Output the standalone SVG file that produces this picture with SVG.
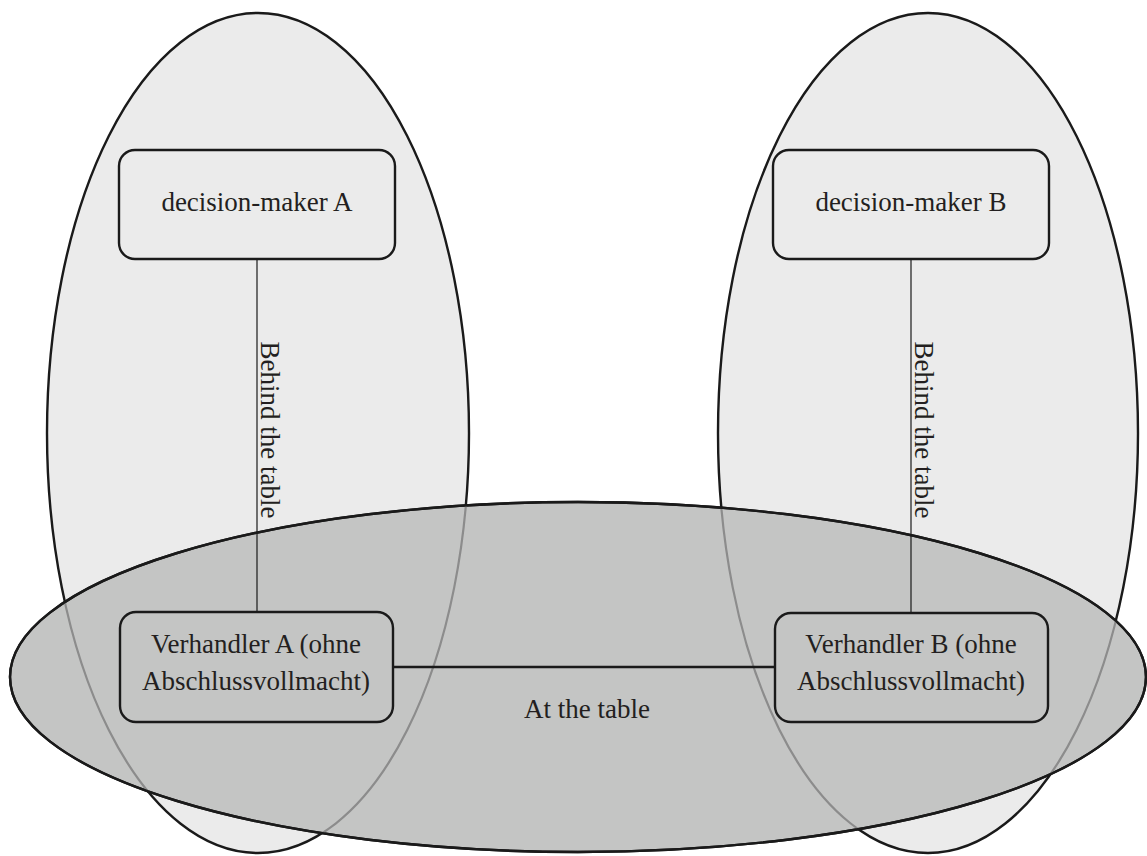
<svg xmlns="http://www.w3.org/2000/svg" width="1147" height="856" viewBox="0 0 1147 856">
<style>
.t{font-family:"Liberation Serif","Times New Roman",serif;font-size:27px;fill:#231f20;text-anchor:middle}
.tall{fill:#ebebeb;stroke:#1a1a1a;stroke-width:2.4}
.box{fill:none;stroke:#1a1a1a;stroke-width:2.4}
.inner{fill:none;stroke:#8c8c8c;stroke-width:2.2}
</style>
<defs>
<clipPath id="wideClip"><ellipse cx="578" cy="677" rx="568" ry="175"/></clipPath>
</defs>
<rect width="1147" height="856" fill="#ffffff"/>
<g id="zone-A"><ellipse class="tall" cx="258" cy="433" rx="211" ry="420"/></g>
<g id="zone-B"><ellipse class="tall" cx="928" cy="433" rx="210" ry="420"/></g>
<g id="zone-table">
<ellipse cx="578" cy="677" rx="568" ry="175" fill="#c4c5c4" stroke="#1a1a1a" stroke-width="2.4"/>
<g clip-path="url(#wideClip)">
<ellipse class="inner" cx="258" cy="433" rx="211" ry="420"/>
<ellipse class="inner" cx="928" cy="433" rx="210" ry="420"/>
</g>
<ellipse cx="578" cy="677" rx="568" ry="175" fill="none" stroke="#1a1a1a" stroke-width="2.4"/>
<text class="t" x="587" y="718">At the table</text>
</g>
<g id="connectors" stroke="#1a1a1a">
<line x1="257" y1="259" x2="257" y2="612" stroke-width="1.2"/>
<line x1="911" y1="259" x2="911" y2="612" stroke-width="1.2"/>
<line x1="393" y1="667" x2="775" y2="667" stroke-width="2.4"/>
<text class="t" stroke="none" transform="translate(261,430) rotate(90)">Behind the table</text>
<text class="t" stroke="none" transform="translate(915,430) rotate(90)">Behind the table</text>
</g>
<g id="dm-A"><rect class="box" x="119" y="150" width="276" height="109" rx="16"/><text class="t" x="257" y="211">decision-maker A</text></g>
<g id="dm-B"><rect class="box" x="773" y="150" width="276" height="109" rx="16"/><text class="t" x="911" y="211">decision-maker B</text></g>
<g id="neg-A"><rect class="box" x="120" y="612" width="273" height="110" rx="16"/><text class="t" x="256" y="653">Verhandler A (ohne</text><text class="t" x="256" y="690">Abschlussvollmacht)</text></g>
<g id="neg-B"><rect class="box" x="775" y="613" width="273" height="109" rx="16"/><text class="t" x="911" y="653">Verhandler B (ohne</text><text class="t" x="911" y="690">Abschlussvollmacht)</text></g>
</svg>
